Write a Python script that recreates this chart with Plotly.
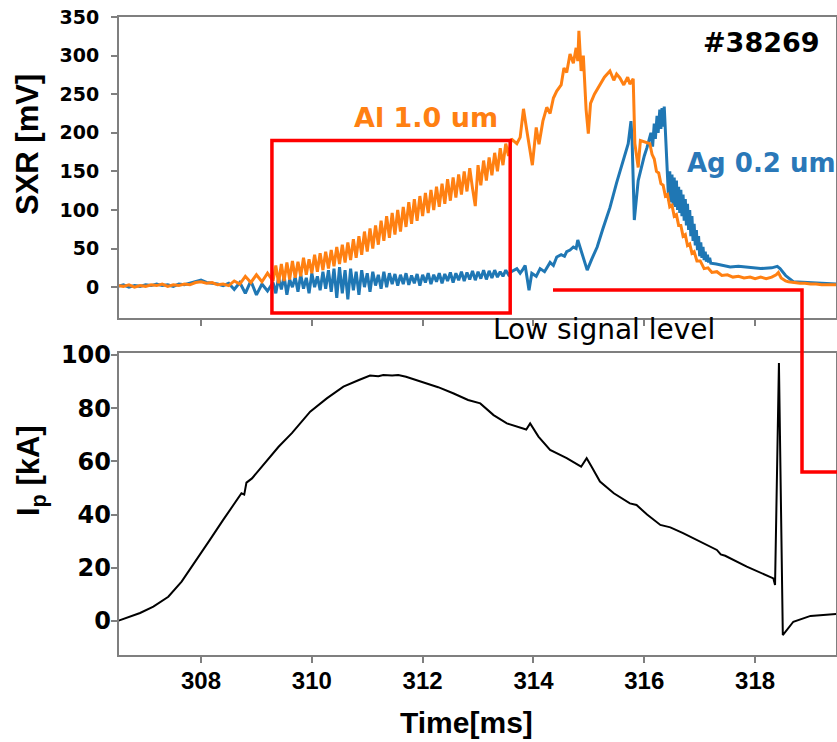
import plotly.graph_objects as go

# ---------------- data ----------------
base_t = [306.5, 306.6, 306.7, 306.8, 306.9, 307.0, 307.1, 307.2, 307.3, 307.4,
          307.5, 307.6, 307.7, 307.8, 307.9, 308.0, 308.1, 308.2, 308.3, 308.4,
          308.5, 308.6, 308.7, 308.8, 308.9, 309.0, 309.1, 309.2, 309.3]
ramp_t = [309.35, 309.40, 309.45, 309.50, 309.55, 309.60, 309.65, 309.70, 309.75, 309.80,
          309.85, 309.90, 309.95, 310.00, 310.05, 310.10, 310.15, 310.20, 310.25, 310.30,
          310.35, 310.40, 310.45, 310.50, 310.55, 310.60, 310.65, 310.70, 310.75, 310.80,
          310.85, 310.90, 310.95, 311.00, 311.05, 311.10, 311.15, 311.20, 311.25, 311.30,
          311.35, 311.40, 311.45, 311.50, 311.55, 311.60, 311.65, 311.70, 311.75, 311.80,
          311.85, 311.90, 311.95, 312.00, 312.05, 312.10, 312.15, 312.20, 312.25, 312.30,
          312.35, 312.40, 312.45, 312.50, 312.55, 312.60, 312.65, 312.70, 312.75, 312.80,
          312.85, 312.90, 312.95, 313.00, 313.05, 313.10, 313.15, 313.20, 313.25, 313.30,
          313.35, 313.40, 313.45, 313.50, 313.55, 313.60]

# Al 1.0 um filter (orange), mV
al_base = [2, 1, 3, 0, 2, 1, 3, 2, 4, 1, 3, 2, 4, 3, 6, 7, 5, 6, 3, 4,
           2, 8, 4, 14, 6, 16, 7, 18, 8]
al_ramp = [28, 5, 30, 8, 32, 10, 34, 12, 33, 14,
           38, 16, 36, 18, 42, 20, 44, 22, 46, 24,
           48, 27, 52, 30, 55, 32, 58, 35, 62, 38,
           66, 42, 72, 46, 76, 50, 80, 55, 86, 60,
           92, 64, 96, 68, 100, 72, 104, 78, 110, 82,
           114, 86, 118, 92, 122, 96, 126, 100, 130, 104,
           134, 108, 140, 112, 142, 116, 146, 120, 150, 124,
           154, 128, 105, 158, 132, 164, 138, 168, 145, 174,
           150, 180, 158, 186, 170, 192]
al_tail_t = [313.70, 313.76, 313.82, 313.88, 313.98, 314.05, 314.10, 314.17, 314.24, 314.30,
             314.36, 314.42, 314.50, 314.55, 314.60, 314.66, 314.72, 314.77, 314.80, 314.82,
             314.86, 314.90, 314.95, 314.99, 315.03, 315.10, 315.20, 315.28, 315.38, 315.45,
             315.50, 315.56, 315.63, 315.70, 315.74, 315.80, 315.83, 315.89, 315.93, 316.00,
             316.10, 316.14, 316.18, 316.22, 316.26, 316.30, 316.34, 316.38,
             316.42, 316.46, 316.50, 316.54, 316.58, 316.62, 316.66, 316.70,
             316.74, 316.78, 316.82, 316.86, 316.90, 316.95,
             317.01, 317.08, 317.15, 317.22, 317.31,
             317.40, 317.50, 317.60, 317.70, 317.80, 317.91,
             318.00, 318.10, 318.20, 318.30, 318.38, 318.42, 318.47, 318.55, 318.60, 318.70, 318.81, 318.90,
             319.00, 319.10, 319.20, 319.30, 319.48]
al_tail = [186, 194, 231, 203, 158, 207, 185, 215, 233, 225,
           245, 254, 262, 284, 278, 302, 290, 310, 293, 332,
           280, 300, 230, 199, 238, 250, 263, 272, 280, 268,
           276, 271, 262, 272, 263, 270, 186, 155, 190, 188,
           186, 172, 166, 150, 148, 134, 132, 118,
           120, 104, 106, 92, 94, 80, 80, 66,
           68, 54, 56, 44, 46, 34,
           34, 24, 25, 19, 20,
           15, 16, 13, 14, 12, 13,
           11, 13, 11, 13, 16, 19, 12, 8, 7, 6, 5, 5,
           4, 4, 3, 3, 3]

# Ag 0.2 um filter (blue), mV
ag_base = [1, 3, 0, 2, 1, 3, 2, 4, 2, 3, 1, 4, 3, 5, 8, 9, 6, 5, 4, 2,
           5, -3, 6, -8, 8, -10, 4, -5, 6]
ag_ramp = [-8, 12, -3, 14, -10, 10, 0, 13, -6, 16,
           -2, 12, -8, 18, 0, 14, -4, 20, -2, 22,
           -6, 24, -14, 26, -8, 22, -16, 24, -4, 20,
           -10, 22, 0, 18, -6, 20, 2, 16, -2, 20,
           0, 18, 4, 17, 2, 16, 4, 18, 3, 15,
           5, 17, 2, 16, 6, 18, 4, 16, 7, 18,
           5, 17, 8, 19, 6, 18, 9, 20, 8, 19,
           10, 21, 9, 20, 11, 22, 10, 21, 12, 22,
           13, 20, 14, 22, 16, 20]
ag_tail_t = [313.70, 313.76, 313.80, 313.85, 313.92, 313.97, 314.05, 314.12, 314.20, 314.30,
             314.36, 314.42, 314.50, 314.56, 314.60, 314.66, 314.72, 314.77, 314.80, 314.85,
             314.90, 314.97, 315.05, 315.15, 315.25, 315.38, 315.50, 315.62, 315.71, 315.76,
             315.78, 315.82, 315.89, 316.00, 316.05,
             316.12, 316.15, 316.18, 316.20, 316.23, 316.25, 316.28, 316.30, 316.32, 316.34,
             316.36, 316.38, 316.40,
             316.42, 316.44, 316.46, 316.48, 316.50, 316.52, 316.54, 316.56, 316.58, 316.60,
             316.62, 316.64, 316.66, 316.68, 316.70, 316.72, 316.74, 316.76, 316.78, 316.80,
             316.82, 316.84, 316.86, 316.88, 316.90, 316.92, 316.94, 316.96, 316.98, 317.00,
             317.02, 317.04, 317.06, 317.08, 317.10, 317.12, 317.14, 317.16, 317.18, 317.20,
             317.30, 317.42, 317.55, 317.70, 317.91, 318.10, 318.30, 318.40, 318.45, 318.55,
             318.69, 318.90, 319.20, 319.48]
ag_tail = [24, 18, 22, 28, -4, 18, 14, 24, 20, 32,
           28, 39, 42, 40, 46, 48, 52, 50, 61, 50,
           36, 22, 36, 52, 75, 103, 135, 164, 186, 215,
           190, 87, 138, 170, 181,
           200, 182, 212, 192, 222, 200, 230, 205, 232, 208,
           234, 200, 178,
           145, 112, 150, 110, 146, 106, 142, 104, 138, 100,
           130, 96, 126, 92, 120, 86, 114, 80, 108, 74,
           100, 66, 92, 60, 82, 54, 74, 48, 66, 40,
           58, 38, 52, 35, 46, 33, 42, 32, 38, 31,
           30, 28, 26, 27, 25, 24, 25, 27, 24, 15,
           7, 6, 5, 4]

# Plasma current Ip (kA)
ip_t = [306.5, 306.9, 307.14, 307.41, 307.65, 307.92, 308.16, 308.40, 308.73, 308.78,
        308.82, 308.92, 309.10, 309.40, 309.64, 309.97, 310.27, 310.57, 310.85, 311.05,
        311.2, 311.29, 311.45, 311.56, 311.7, 311.89, 312.1, 312.28, 312.55, 312.82,
        313.04, 313.28, 313.52, 313.79, 313.87, 313.94, 314.09, 314.30, 314.60, 314.86,
        314.96, 315.05, 315.20, 315.45, 315.74, 315.86, 316.05, 316.29, 316.47, 316.7,
        316.95, 317.31, 317.38, 317.46, 317.85, 318.21, 318.33, 318.36, 318.43, 318.50,
        318.69, 319.0, 319.48]
ip_v = [0, 3, 5.4, 9.1, 14.8, 22.9, 30.5, 38, 48, 47.5,
        52, 53.6, 58, 65.5, 70.6, 78.7, 83.7, 88.1, 90.6, 92.3,
        92.0, 92.5, 92.3, 92.5, 91.8, 90.6, 89.2, 87.9, 85.6, 83.1,
        81.8, 77.4, 74.3, 72.4, 72.0, 74.3, 69.3, 64.3, 61.2, 58.0,
        61.2, 58.0, 52.4, 48.0, 44.2, 43.6, 40.0, 36.1, 35.2, 33.0,
        30.5, 26.7, 25.0, 24.5, 20.4, 17.3, 16.0, 13.5, 97, -5.3,
        -0.3, 1.9, 2.6]

x_ticks = [308, 310, 312, 314, 316, 318]
sxr_ticks = [0, 50, 100, 150, 200, 250, 300, 350]
ip_ticks = [0, 20, 40, 60, 80, 100]

# ---------------- geometry helpers (pixel -> paper) ----------------
W, H = 837, 742
ML, MR, MT, MB = 119, 1, 17, 87
PW, PH = W - ML - MR, H - MT - MB


def px(x):
    return (x - ML) / PW


def py(y):
    return (H - MB - y) / PH


ORANGE = "#FF8012"
BLUE = "#1F77B4"
RED = "#FF0000"
AXC = "#7F7F7F"

xr = [306.52, 319.46]
ip_range = [-12.8, 100.75]

fig = go.Figure()
fig.add_trace(go.Scatter(x=base_t + ramp_t + ag_tail_t, y=ag_base + ag_ramp + ag_tail,
                         mode="lines", line=dict(color=BLUE, width=3),
                         xaxis="x2", yaxis="y2", showlegend=False))
fig.add_trace(go.Scatter(x=base_t + ramp_t + al_tail_t, y=al_base + al_ramp + al_tail,
                         mode="lines", line=dict(color=ORANGE, width=3),
                         xaxis="x2", yaxis="y2", showlegend=False))
fig.add_trace(go.Scatter(x=ip_t, y=ip_v, mode="lines",
                         line=dict(color="black", width=2),
                         xaxis="x", yaxis="y", showlegend=False))
# helper (empty) trace so the label-only axes are drawn
fig.add_trace(go.Scatter(x=[None], y=[None], mode="lines", xaxis="x3", yaxis="y3",
                         showlegend=False, hoverinfo="skip"))

common_x = dict(range=xr, tickvals=x_ticks, ticks="outside", ticklen=6, tickwidth=1.5,
                tickcolor=AXC, showline=True, linecolor=AXC, linewidth=2, mirror=True,
                showgrid=False, zeroline=False, automargin=False, showticklabels=False)
common_y = dict(ticks="outside", ticklen=6, tickwidth=1.5, tickcolor=AXC,
                showline=True, linecolor=AXC, linewidth=2, mirror=True,
                showgrid=False, zeroline=False, automargin=False)

fig.update_layout(
    width=W, height=H, autosize=False,
    margin=dict(l=ML, r=MR, t=MT, b=MB, pad=0),
    plot_bgcolor="white", paper_bgcolor="white",
    xaxis=dict(**common_x, anchor="y"),
    xaxis2=dict(**common_x, anchor="y2", matches="x"),
    # label-only axes for the lower panel
    xaxis3=dict(range=xr, tickvals=x_ticks, ticks="", overlaying="x", anchor="free",
                position=0, side="bottom", ticklabelstandoff=9,
                showline=False, showgrid=False, zeroline=False, automargin=False,
                tickfont=dict(family="Liberation Sans", size=24, color="black", weight="bold")),
    yaxis=dict(**common_y, domain=[0, py(353)], range=ip_range, tickvals=ip_ticks,
               anchor="x", showticklabels=False),
    yaxis3=dict(range=ip_range, tickvals=ip_ticks, ticks="", overlaying="y", anchor="free",
                position=0, side="left", ticklabelstandoff=8,
                showline=False, showgrid=False, zeroline=False, automargin=False,
                tickfont=dict(family="DejaVu Sans", size=24, color="black", weight="bold")),
    yaxis2=dict(**common_y, domain=[py(318), 1], range=[-40, 350], tickvals=sxr_ticks,
                anchor="x2",
                tickfont=dict(family="DejaVu Sans", size=19, color="black", weight="bold"),
                ticklabelstandoff=8),
)

# red highlight box in the SXR panel
fig.add_shape(type="rect", xref="x2", yref="y2", x0=309.28, x1=313.58, y0=-33.6, y1=190,
              line=dict(color=RED, width=3.5), fillcolor="rgba(0,0,0,0)")
# red connector line
fig.add_shape(type="path", xref="paper", yref="paper",
              path=f"M {px(553)} {py(290)} L {px(802)} {py(290)} L {px(802)} {py(472)} L {px(845)} {py(472)}",
              line=dict(color=RED, width=3.5))

ann = [
    dict(text="<b>#38269</b>", x=px(761), y=py(43), font=dict(family="DejaVu Sans", size=27, color="black")),
    dict(text="<b>Al 1.0 um</b>", x=px(426), y=py(117), font=dict(family="DejaVu Sans", size=27, color=ORANGE)),
    dict(text="<b>Ag 0.2 um</b>", x=px(761), y=py(163), font=dict(family="DejaVu Sans", size=26, color="#2A78B8")),
    dict(text="Low signal level", x=px(604), y=py(330), font=dict(family="DejaVu Sans", size=28, color="black")),
    dict(text="<b>SXR [mV]</b>", x=px(27), y=py(145), textangle=-90,
         font=dict(family="Liberation Sans", size=31, color="black")),
    dict(text="<b>I<sub>p</sub> [kA]</b>", x=px(31), y=py(471), textangle=-90,
         font=dict(family="Liberation Sans", size=31, color="black")),
    dict(text="<b>Time[ms]</b>", x=px(466), y=py(723),
         font=dict(family="Liberation Sans", size=30, color="black")),
]
for a in ann:
    fig.add_annotation(xref="paper", yref="paper", showarrow=False,
                       xanchor="center", yanchor="middle", **a)

fig.write_html("out.html", config={"displayModeBar": False},
               post_script="document.body.style.margin='0px';document.body.style.overflow='hidden';")
